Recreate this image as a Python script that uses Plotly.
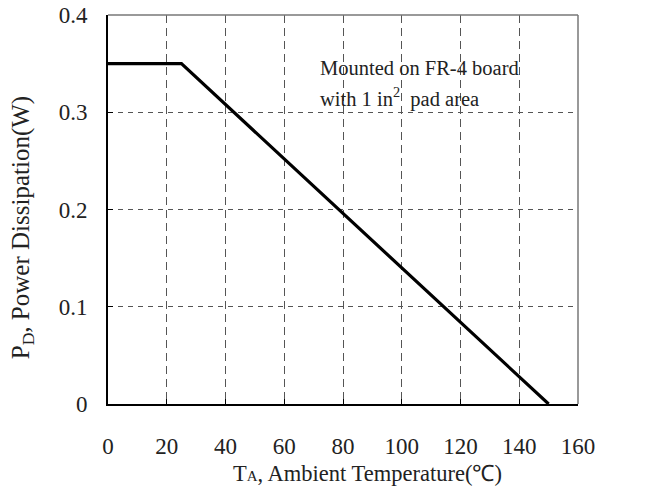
import plotly.graph_objects as go

temp_c = [0, 25, 150]
power_w = [0.35, 0.35, 0.0]
x_ticks = [0, 20, 40, 60, 80, 100, 120, 140, 160]
y_ticks = [0, 0.1, 0.2, 0.3, 0.4]
y_tick_labels = ["0", "0.1", "0.2", "0.3", "0.4"]

font = "Liberation Serif, Times New Roman, serif"
txt = "#222"

fig = go.Figure()
fig.add_trace(go.Scatter(x=temp_c, y=power_w, mode="lines",
                         line=dict(color="black", width=3.2), showlegend=False))

fig.update_layout(
    width=649, height=491,
    margin=dict(l=108, r=71, t=15, b=87, autoexpand=False),
    paper_bgcolor="white", plot_bgcolor="white",
    font=dict(family=font, size=23, color=txt),
    xaxis=dict(range=[0, 160], tickvals=x_ticks, showgrid=True,
               gridcolor="#555", griddash="8px,5px", gridwidth=1,
               showline=True, linecolor="black", linewidth=1.8,
               ticks="inside", ticklen=5, tickcolor="black",
               zeroline=False, ticklabelstandoff=20, automargin=False),
    yaxis=dict(range=[0, 0.4], tickvals=y_ticks, ticktext=y_tick_labels,
               showgrid=True, gridcolor="#555", griddash="5px,5px", gridwidth=1,
               showline=True, linecolor="black", linewidth=1.8,
               ticks="inside", ticklen=5, tickcolor="black",
               zeroline=False, ticklabelstandoff=14, automargin=False),
)

fig.add_shape(type="line", xref="x domain", yref="y domain", x0=0, x1=1, y0=1, y1=1,
              line=dict(color="#777", width=1.5))
fig.add_shape(type="line", xref="x domain", yref="y domain", x0=1, x1=1, y0=0, y1=1,
              line=dict(color="#777", width=1.5))

# axis titles
fig.add_annotation(xref="x domain", yref="y domain", x=0.553, y=0, yshift=-69,
                   xanchor="center", yanchor="middle", showarrow=False,
                   text="T<span style='font-size:15px'>A</span>, Ambient Temperature(℃)",
                   font=dict(family=font, size=22.5, color=txt))
fig.add_annotation(xref="x domain", yref="y domain", x=0, xshift=-86, y=0.452,
                   xanchor="center", yanchor="middle", showarrow=False, textangle=-90,
                   text="P<sub>D</sub>, Power Dissipation(W)",
                   font=dict(family=font, size=25, color=txt))

# note
fig.add_annotation(xref="x domain", yref="y domain", x=0.447, y=0.864,
                   xanchor="left", yanchor="middle", showarrow=False,
                   text="Mounted on FR-4 board",
                   font=dict(family=font, size=20.5, color=txt))
fig.add_annotation(xref="x domain", yref="y domain", x=0.447, y=0.789,
                   xanchor="left", yanchor="middle", showarrow=False,
                   text="with 1 in<sup>2</sup>&nbsp;&nbsp;pad area",
                   font=dict(family=font, size=20.5, color=txt))

fig.write_html("out.html", config={"displayModeBar": False},
               post_script="document.body.style.margin='0px';")
